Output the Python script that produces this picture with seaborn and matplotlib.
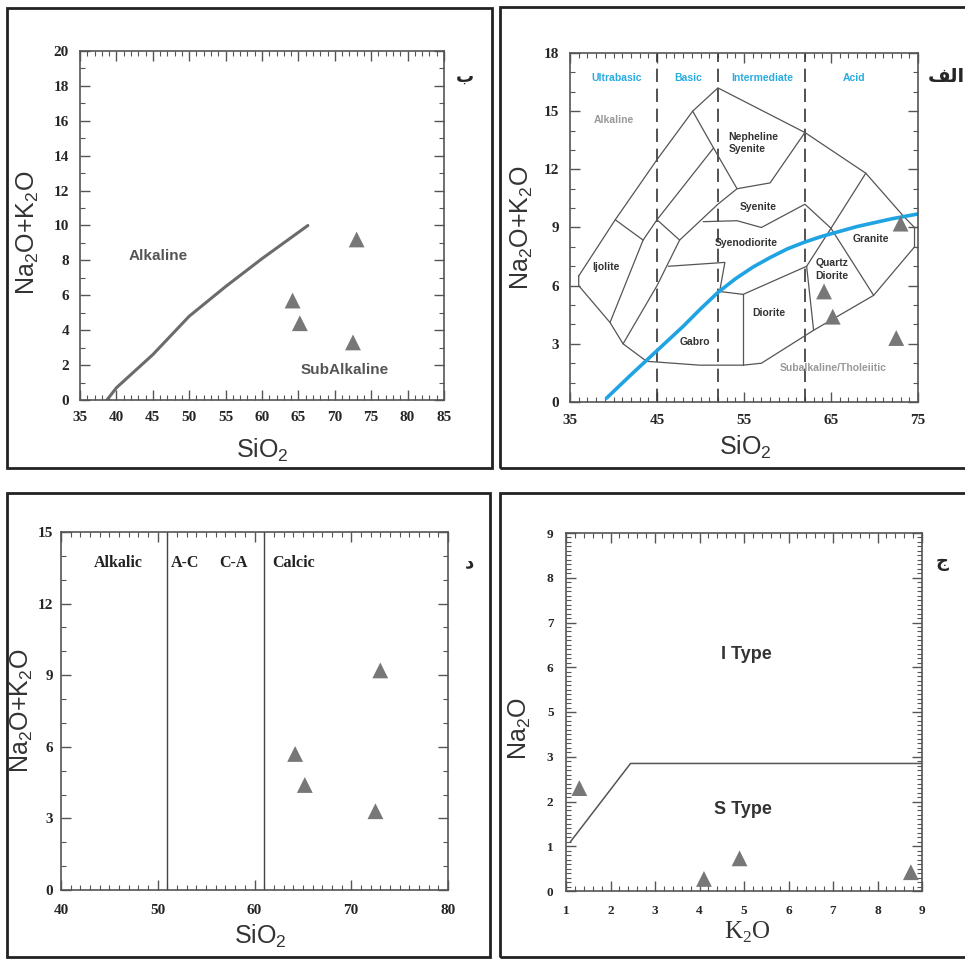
import matplotlib
matplotlib.use("Agg")
import matplotlib.pyplot as plt
import seaborn as sns
from matplotlib.patches import Rectangle
from matplotlib.ticker import MultipleLocator

# sample data (same four samples on the SiO2 diagrams)
sio2 = [64.2, 65.2, 72.5, 73.0]
alkali = [5.7, 4.4, 3.3, 9.2]
k2o = [1.3, 4.1, 4.9, 8.75]
na2o = [2.3, 0.27, 0.73, 0.42]

# Irvine & Baragar alkaline / subalkaline line (panel ب)
ib_x = [38.7, 40, 45, 50, 55, 60, 66.3]
ib_y = [0, 0.7, 2.6, 4.8, 6.5, 8.1, 10]

# blue curve on TAS (panel الف)
blue_x = [39.2, 42, 45, 48, 50, 52, 54, 56, 58, 60, 62, 64, 66, 68, 70, 72, 75]
blue_y = [0.2, 1.4, 2.65, 3.9, 4.8, 5.65, 6.35, 6.95, 7.45, 7.9, 8.25, 8.55, 8.8, 9.05, 9.25, 9.45, 9.7]

# TAS field boundaries
tas_outline_x = [36.0, 40.2, 45.0, 49.1, 52.0, 62.0, 69.0, 73.3, 74.6, 74.6, 69.9, 63.0, 57.0, 54.9, 49.9, 43.8, 41.1, 39.6, 36.0, 36.0]
tas_outline_y = [6.5, 9.4, 12.5, 15.0, 16.2, 13.9, 11.8, 9.6, 9.0, 8.0, 5.5, 3.7, 2.0, 1.9, 1.9, 2.1, 3.0, 4.1, 6.0, 6.5]
tas_lines = [
    ([40.2, 43.4, 39.6], [9.4, 8.35, 4.1]),
    ([43.4, 45.0, 51.5], [8.35, 9.4, 13.1]),
    ([49.1, 51.5, 54.2, 58.0, 62.0], [15.0, 13.1, 11.0, 11.3, 13.9]),
    ([45.0, 47.6], [9.4, 8.35]),
    ([41.1, 45.0, 47.6, 52.0, 54.2], [3.0, 6.0, 8.35, 10.2, 11.0]),
    ([50.3, 54.2, 57.0, 62.0, 65.0, 69.0], [9.3, 9.35, 9.0, 10.2, 8.96, 11.8]),
    ([65.0, 69.9], [8.96, 5.5]),
    ([65.0, 62.2, 63.0], [8.96, 7.0, 3.7]),
    ([52.2, 54.9, 62.2], [5.7, 5.55, 7.0]),
    ([54.9, 54.9], [5.55, 1.9]),
    ([46.3, 52.8, 52.2], [7.0, 7.2, 5.7]),
    ([74.6, 75.0], [9.0, 9.0]),
    ([74.6, 75.0], [8.0, 8.0]),
]
tas_dividers = [45, 52, 62]
tas_classes = ["Ultrabasic", "Basic", "Intermediate", "Acid"]
tas_class_x = [40.4, 48.6, 57.1, 67.6]
tas_fields = ["Nepheline\nSyenite", "Syenite", "Syenodiorite", "Ijolite", "Quartz\nDiorite",
              "Granite", "Diorite", "Gabro"]
tas_field_x = [53.2, 56.65, 55.3, 39.1, 63.2, 69.6, 57.8, 49.4]
tas_field_y = [13.37, 10.07, 8.18, 6.98, 6.84, 8.39, 4.57, 3.11]

# Peacock lines (panel د)
peacock_lines = [51, 61]
peacock_names = ["Alkalic", "A-C", "C-A", "Calcic"]
peacock_x = [45.9, 52.8, 57.8, 64.0]

# I/S type line (panel ج)
is_x = [1.1, 2.45, 9.0]
is_y = [1.1, 2.85, 2.85]
is_ytick_labels = ["0", "1", "2", "3", "5", "6", "7", "8", "9"]

sns.set_style("white")
plt.rcParams["mathtext.fontset"] = "custom"
plt.rcParams["mathtext.rm"] = "Liberation Sans"
plt.rcParams["mathtext.sf"] = "Liberation Serif"

W, H = 965, 959
fig = plt.figure(figsize=(W / 100, H / 100), dpi=100)


def add_axes(x0, y0, x1, y1):
    return fig.add_axes([x0 / W, 1 - y1 / H, (x1 - x0) / W, (y1 - y0) / H])


def frame(x0, y0, x1, y1):
    fig.add_artist(Rectangle((x0 / W, 1 - y1 / H), (x1 - x0) / W, (y1 - y0) / H,
                             transform=fig.transFigure, fill=False, lw=2, ec="#222222"))


def style(ax, xlim, ylim, xt, xl, yt, yl, xminor, yminor, fs, xpad, ypad):
    ax.set_xlim(*xlim)
    ax.set_ylim(*ylim)
    ax.set_xticks(xt, labels=xl, fontfamily="Liberation Serif", fontweight="bold", fontsize=fs)
    ax.set_yticks(yt, labels=yl, fontfamily="Liberation Serif", fontweight="bold", fontsize=fs)
    ax.xaxis.set_minor_locator(MultipleLocator(xminor))
    ax.yaxis.set_minor_locator(MultipleLocator(yminor))
    ax.tick_params(which="both", direction="in", top=True, right=True, bottom=True, left=True,
                   color="#555555")
    ax.tick_params(which="major", length=7, width=1)
    ax.tick_params(which="minor", length=3.5, width=0.8)
    ax.tick_params(axis="x", pad=xpad)
    ax.tick_params(axis="y", pad=ypad)
    for s in ax.spines.values():
        s.set_color("#555555")
        s.set_linewidth(1.2)


def labels(ax, xlab, ylab, xpos, ypos, xfam="Liberation Sans"):
    ax.set_xlabel(xlab, fontfamily=xfam, fontsize=18, color="#333333", va="center")
    ax.set_ylabel(ylab, fontfamily="Liberation Sans", fontsize=18, color="#333333", va="center")
    ax.xaxis.set_label_coords(*xpos)
    ax.yaxis.set_label_coords(*ypos)


tri = dict(marker="^", s=130, color="#777777", edgecolor="none", legend=False, zorder=5)
alk_label = "Na$_2$O+K$_2$O"

# ---- panel ب : alkaline / subalkaline
frame(7, 8, 492, 468)
ax1 = add_axes(80, 51, 444, 400)
sns.lineplot(x=ib_x, y=ib_y, sort=False, estimator=None, color="#6b6b6b", lw=2.2, ax=ax1)
sns.scatterplot(x=sio2, y=alkali, ax=ax1, **tri)
ax1.text(45.75, 8.24, "Alkaline", ha="center", va="center", fontsize=11, fontweight="bold",
         color="#555555", family="Liberation Sans")
ax1.text(71.4, 1.72, "SubAlkaline", ha="center", va="center", fontsize=11, fontweight="bold",
         color="#555555", family="Liberation Sans")
style(ax1, (35, 85), (0, 20), range(35, 86, 5), [str(v) for v in range(35, 86, 5)],
      range(0, 21, 2), [str(v) for v in range(0, 21, 2)], 1, 1, 11, 8, 8)
labels(ax1, "SiO$_2$", alk_label, (0.5, -0.145), (-0.143, 0.48))
fig.text(465 / W, 1 - 77 / H, "ب", ha="center", va="center", fontsize=13, fontweight="bold")

# ---- panel الف : TAS
frame(500, 7, 968, 468)
ax2 = add_axes(570, 53, 918, 402)
for d in tas_dividers:
    ax2.axvline(d, color="#333333", lw=1.2, ls=(0, (8, 4)))
sns.lineplot(x=tas_outline_x, y=tas_outline_y, sort=False, estimator=None, color="#555555",
             lw=0.9, ax=ax2)
for lx, ly in tas_lines:
    sns.lineplot(x=lx, y=ly, sort=False, estimator=None, color="#555555", lw=0.9, ax=ax2)
sns.lineplot(x=blue_x, y=blue_y, sort=False, estimator=None, color="#1fa3e3", lw=2.6, ax=ax2)
sns.scatterplot(x=sio2, y=alkali, ax=ax2, **tri)
for name, x in zip(tas_classes, tas_class_x):
    ax2.text(x, 16.7, name, ha="center", va="center", fontsize=7.5, fontweight="bold",
             color="#29abe2", family="Liberation Sans")
for name, x, y in zip(tas_fields, tas_field_x, tas_field_y):
    ha = "left" if "\n" in name else "center"
    ax2.text(x, y, name, ha=ha, va="center", fontsize=7.5, fontweight="bold", color="#333333",
             family="Liberation Sans", linespacing=1.3)
ax2.text(40.06, 14.54, "Alkaline", ha="center", va="center", fontsize=7.5, fontweight="bold",
         color="#999999", family="Liberation Sans")
ax2.text(65.3, 1.74, "Subalkaline/Tholeiitic", ha="center", va="center", fontsize=7.5,
         fontweight="bold", color="#999999", family="Liberation Sans")
style(ax2, (35, 75), (0, 18), range(35, 76, 10), [str(v) for v in range(35, 76, 10)],
      range(0, 19, 3), [str(v) for v in range(0, 19, 3)], 1, 1, 11, 9, 8)
labels(ax2, "SiO$_2$", alk_label, (0.503, -0.129), (-0.138, 0.5))
fig.text(946 / W, 1 - 77 / H, "\ufed2\ufedf\ufe8d", ha="center", va="center", fontsize=14,
         fontweight="bold")

# ---- panel د : Peacock
frame(7, 493, 490, 957)
ax3 = add_axes(61, 532, 448, 890)
for v in peacock_lines:
    ax3.axvline(v, color="#444444", lw=1)
sns.scatterplot(x=sio2, y=alkali, ax=ax3, **tri)
for name, x in zip(peacock_names, peacock_x):
    ax3.text(x, 13.7, name, ha="center", va="center", fontsize=11.5, fontweight="bold",
             color="#222222", family="Liberation Serif")
style(ax3, (40, 80), (0, 15), range(40, 81, 10), [str(v) for v in range(40, 81, 10)],
      range(0, 16, 3), [str(v) for v in range(0, 16, 3)], 1, 1, 11, 10, 6)
labels(ax3, "SiO$_2$", alk_label, (0.514, -0.131), (-0.10, 0.5))
fig.text(470 / W, 1 - 562 / H, "د", ha="center", va="center", fontsize=13, fontweight="bold")

# ---- panel ج : I / S type
frame(500, 493, 968, 957)
ax4 = add_axes(566, 533, 922, 891)
sns.lineplot(x=is_x, y=is_y, sort=False, estimator=None, color="#555555", lw=1.1, ax=ax4)
sns.scatterplot(x=k2o, y=na2o, ax=ax4, **tri)
ax4.text(5.05, 5.28, "I Type", ha="center", va="center", fontsize=13, fontweight="bold",
         color="#333333", family="Liberation Sans")
ax4.text(4.97, 1.83, "S Type", ha="center", va="center", fontsize=13, fontweight="bold",
         color="#333333", family="Liberation Sans")
style(ax4, (1, 9), (0, 8), range(1, 10), [str(v) for v in range(1, 10)],
      range(0, 9), is_ytick_labels, 0.2, 0.1, 9.5, 10, 9)
labels(ax4, "K$_\\mathsf{2}$O", "Na$_2$O", (0.51, -0.117), (-0.129, 0.455),
       xfam="Liberation Serif")
fig.text(942 / W, 1 - 562 / H, "ج", ha="center", va="center", fontsize=13, fontweight="bold")

fig.savefig("out.png", dpi=100, facecolor="white")
